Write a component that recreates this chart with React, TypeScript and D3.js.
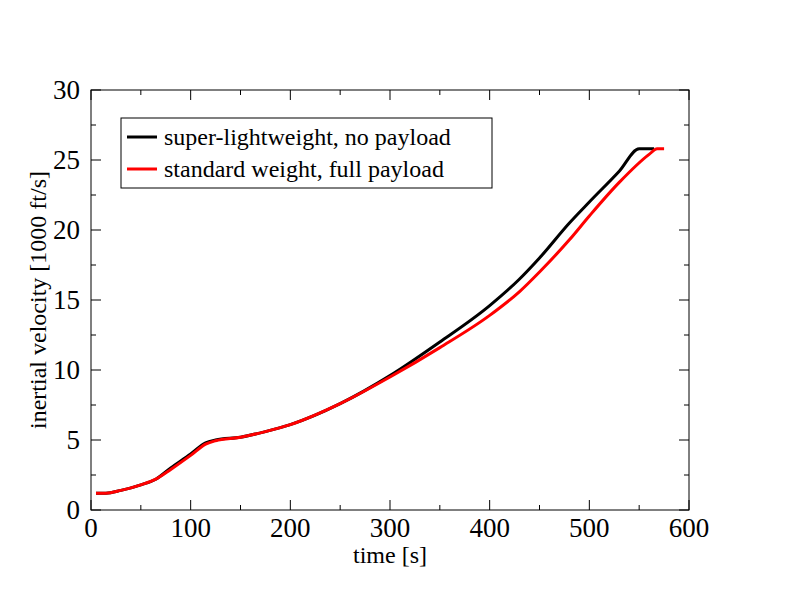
import * as d3 from "d3";

const timeBlack = [5, 15, 30, 50, 65, 80, 100, 115, 125, 150, 175, 200, 250, 300, 350, 400, 430, 450, 480, 500, 530, 550, 565];
const velBlack = [1.2, 1.2, 1.4, 1.8, 2.2, 3.0, 4.0, 4.8, 5.0, 5.2, 5.6, 6.1, 7.6, 9.6, 12.0, 14.6, 16.5, 18.0, 20.5, 22.0, 24.2, 25.8, 25.8];
const timeRed = [5, 15, 30, 50, 65, 80, 100, 115, 125, 150, 175, 200, 250, 300, 350, 400, 430, 450, 480, 500, 530, 560, 568, 575];
const velRed = [1.2, 1.2, 1.4, 1.8, 2.2, 2.9, 3.9, 4.7, 4.95, 5.2, 5.6, 6.1, 7.6, 9.5, 11.6, 13.9, 15.6, 17.0, 19.3, 21.0, 23.4, 25.4, 25.8, 25.8];
const seriesNames = ["super-lightweight, no payload", "standard weight, full payload"];
const seriesColors = ["black", "red"];

export default function App() {
  const W = 800, H = 600;
  const x = d3.scaleLinear().domain([0, 600]).range([91, 689]);
  const y = d3.scaleLinear().domain([0, 30]).range([510, 90]);
  const line = d3.line<[number, number]>().x(d => x(d[0])).y(d => y(d[1])).curve(d3.curveMonotoneX);
  const series = [
    d3.zip(timeBlack, velBlack) as [number, number][],
    d3.zip(timeRed, velRed) as [number, number][],
  ];
  const font = "'Liberation Serif', 'Times New Roman', serif";
  const xMajor = d3.range(0, 601, 100), xMinor = d3.range(50, 600, 100);
  const yMajor = d3.range(0, 31, 5), yMinor = d3.range(2.5, 30, 5);
  return (
    <svg width={W} height={H} style={{ display: "block", margin: -8, background: "white" }} fontFamily={font}>
      <rect x={91} y={90} width={598} height={420} fill="none" stroke="black" strokeWidth={1} />
      {xMajor.map(v => (
        <g key={"xm" + v}>
          <line x1={x(v)} x2={x(v)} y1={510} y2={500} stroke="black" />
          <line x1={x(v)} x2={x(v)} y1={90} y2={100} stroke="black" />
          <text x={x(v)} y={537} fontSize={27} textAnchor="middle">{v}</text>
        </g>
      ))}
      {xMinor.map(v => (
        <g key={"xn" + v}>
          <line x1={x(v)} x2={x(v)} y1={510} y2={505} stroke="black" />
          <line x1={x(v)} x2={x(v)} y1={90} y2={95} stroke="black" />
        </g>
      ))}
      {yMajor.map(v => (
        <g key={"ym" + v}>
          <line x1={91} x2={101} y1={y(v)} y2={y(v)} stroke="black" />
          <line x1={689} x2={679} y1={y(v)} y2={y(v)} stroke="black" />
          <text x={80} y={y(v) + 9} fontSize={27} textAnchor="end">{v}</text>
        </g>
      ))}
      {yMinor.map(v => (
        <g key={"yn" + v}>
          <line x1={91} x2={96} y1={y(v)} y2={y(v)} stroke="black" />
          <line x1={689} x2={684} y1={y(v)} y2={y(v)} stroke="black" />
        </g>
      ))}
      <text x={390} y={563} fontSize={24} textAnchor="middle">time [s]</text>
      <text transform={`translate(46,300) rotate(-90)`} fontSize={24} textAnchor="middle">inertial velocity [1000 ft/s]</text>
      {series.map((s, i) => (
        <path key={i} d={line(s) || ""} fill="none" stroke={seriesColors[i]} strokeWidth={3} />
      ))}
      <rect x={121} y={118} width={371} height={70} fill="white" stroke="black" />
      {seriesNames.map((n, i) => (
        <g key={n}>
          <line x1={127} x2={157} y1={137 + i * 32} y2={137 + i * 32} stroke={seriesColors[i]} strokeWidth={3} />
          <text x={164} y={145 + i * 32} fontSize={24}>{n}</text>
        </g>
      ))}
    </svg>
  );
}
